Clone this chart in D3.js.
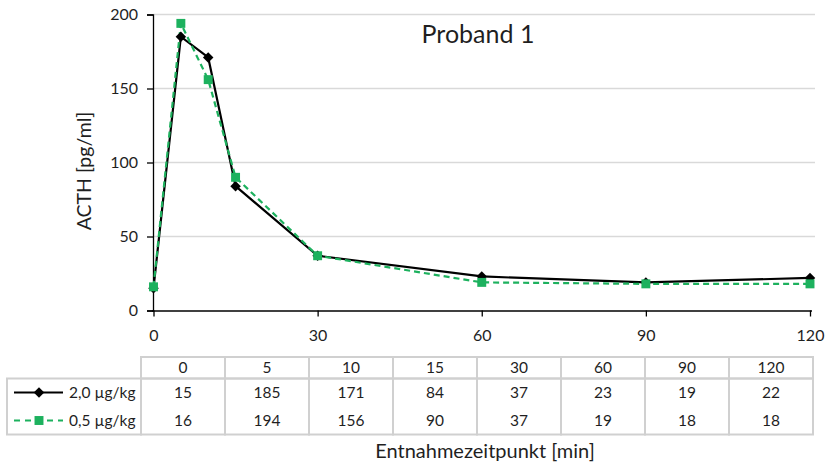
<!DOCTYPE html>
<html lang="de">
<head>
<meta charset="UTF-8">
<title>Proband 1</title>
<script src="https://cdn.jsdelivr.net/npm/d3@7"></script>
<style>
  body { margin: 0; background: #fff; }
  text { font-family: Lato, "Open Sans", sans-serif; fill: #1f1f1f; }
</style>
</head>
<body>
<script>
// data
var times = [0, 5, 10, 15, 30, 60, 90, 120];
var dose20 = [15, 185, 171, 84, 37, 23, 19, 22];
var dose05 = [16, 194, 156, 90, 37, 19, 18, 18];
var seriesNames = ["2,0 \u00b5g/kg", "0,5 \u00b5g/kg"];
var xTicks = [0, 30, 60, 90, 120];
var yTicks = [0, 50, 100, 150, 200];

var width = 830, height = 464;
var green = "#1db15e";

var svg = d3.select("body").append("svg")
    .attr("width", width)
    .attr("height", height);

var x = d3.scaleLinear().domain([0, 120]).range([153.5, 810]);
var y = d3.scaleLinear().domain([0, 200]).range([310.5, 14.5]);

// gridlines
svg.append("g")
    .selectAll("line")
    .data(yTicks.filter(function (d) { return d > 0; }))
    .enter().append("line")
    .attr("x1", 153).attr("x2", 815)
    .attr("y1", function (d) { return y(d); })
    .attr("y2", function (d) { return y(d); })
    .attr("stroke", "#d9d9d9")
    .attr("stroke-width", 1.5);

// y axis
var yAxis = svg.append("g")
    .attr("transform", "translate(153,0)")
    .call(d3.axisLeft(y).tickValues(yTicks).tickSize(6).tickPadding(9));
yAxis.select(".domain").attr("stroke", "#000").attr("stroke-width", 1.3);
yAxis.selectAll(".tick line").attr("stroke", "#000").attr("stroke-width", 1.3);
yAxis.selectAll("text").style("font-size", "16px").style("font-family", "Lato").attr("fill", "#1f1f1f");

// x axis
var xAxis = svg.append("g")
    .attr("transform", "translate(0,310.5)")
    .call(d3.axisBottom(x).tickValues(xTicks).tickSize(6).tickPadding(13));
xAxis.select(".domain").attr("stroke", "#000").attr("stroke-width", 1.3)
    .attr("d", "M152,0.5H812");
xAxis.selectAll(".tick line").attr("stroke", "#000").attr("stroke-width", 1.3);
xAxis.selectAll("text").style("font-size", "16px").style("font-family", "Lato").attr("fill", "#1f1f1f");

// axis titles
svg.append("text")
    .attr("transform", "translate(91,171) rotate(-90)")
    .attr("text-anchor", "middle")
    .style("font-size", "19.5px")
    .text("ACTH [pg/ml]");

svg.append("text")
    .attr("x", 485).attr("y", 458)
    .attr("text-anchor", "middle")
    .style("font-size", "20px")
    .text("Entnahmezeitpunkt [min]");

svg.append("text")
    .attr("x", 478).attr("y", 43)
    .attr("text-anchor", "middle")
    .style("font-size", "25px")
    .text("Proband 1");

// lines
var line = d3.line()
    .x(function (d, i) { return x(times[i]); })
    .y(function (d) { return y(d); });

svg.append("path")
    .datum(dose20)
    .attr("fill", "none")
    .attr("stroke", "#000")
    .attr("stroke-width", 2.2)
    .attr("d", line);

svg.append("path")
    .datum(dose05)
    .attr("fill", "none")
    .attr("stroke", green)
    .attr("stroke-width", 2.2)
    .attr("stroke-dasharray", "6,4")
    .attr("d", line);

// markers
var diamond = d3.symbol().type(d3.symbolDiamond2).size(70);
var square = d3.symbol().type(d3.symbolSquare).size(80);

svg.append("g").selectAll("path")
    .data(dose20)
    .enter().append("path")
    .attr("d", diamond)
    .attr("transform", function (d, i) { return "translate(" + x(times[i]) + "," + y(d) + ")"; })
    .attr("fill", "#000");

svg.append("g").selectAll("path")
    .data(dose05)
    .enter().append("path")
    .attr("d", square)
    .attr("transform", function (d, i) { return "translate(" + x(times[i]) + "," + y(d) + ")"; })
    .attr("fill", green);

// data table
var col = d3.scaleBand().domain(times).range([141, 813]);
var tableTop = 357, headH = 21.5, rowH = 28;
var border = "#d0d0d0";
var tbl = svg.append("g");

// header row cells
tbl.selectAll("rect.head")
    .data(times)
    .enter().append("rect")
    .attr("class", "head")
    .attr("x", function (d) { return col(d); })
    .attr("y", tableTop)
    .attr("width", col.bandwidth())
    .attr("height", headH)
    .attr("fill", "none")
    .attr("stroke", border)
    .attr("stroke-width", 2);

// body cells
tbl.selectAll("rect.body")
    .data(times)
    .enter().append("rect")
    .attr("class", "body")
    .attr("x", function (d) { return col(d); })
    .attr("y", tableTop + headH)
    .attr("width", col.bandwidth())
    .attr("height", rowH * 2)
    .attr("fill", "none")
    .attr("stroke", border)
    .attr("stroke-width", 2);

// legend cell
tbl.append("rect")
    .attr("x", 7).attr("y", tableTop + headH)
    .attr("width", 134).attr("height", rowH * 2)
    .attr("fill", "none")
    .attr("stroke", border)
    .attr("stroke-width", 2);

tbl.selectAll("text.head")
    .data(times)
    .enter().append("text")
    .attr("class", "head")
    .attr("x", function (d) { return col(d) + col.bandwidth() / 2; })
    .attr("y", tableTop + headH / 2 + 5.5)
    .attr("text-anchor", "middle")
    .style("font-size", "15.5px")
    .text(function (d) { return d; });

[dose20, dose05].forEach(function (vals, r) {
    var cy = tableTop + headH + rowH * r + rowH / 2;
    tbl.selectAll("text.r" + r)
        .data(vals)
        .enter().append("text")
        .attr("class", "r" + r)
        .attr("x", function (d, i) { return col(times[i]) + col.bandwidth() / 2; })
        .attr("y", cy + 5.5)
        .attr("text-anchor", "middle")
        .style("font-size", "15.5px")
        .text(function (d) { return d; });

    // legend key
    tbl.append("line")
        .attr("x1", 14).attr("x2", 63)
        .attr("y1", cy).attr("y2", cy)
        .attr("stroke", r === 0 ? "#000" : green)
        .attr("stroke-width", 2.2)
        .attr("stroke-dasharray", r === 0 ? null : "6,5");
    tbl.append("path")
        .attr("d", r === 0 ? diamond : square)
        .attr("transform", "translate(39," + cy + ")")
        .attr("fill", r === 0 ? "#000" : green);
    tbl.append("text")
        .attr("x", 69).attr("y", cy + 5.5)
        .style("font-size", "15.5px")
        .text(seriesNames[r]);
});
</script>
</body>
</html>
